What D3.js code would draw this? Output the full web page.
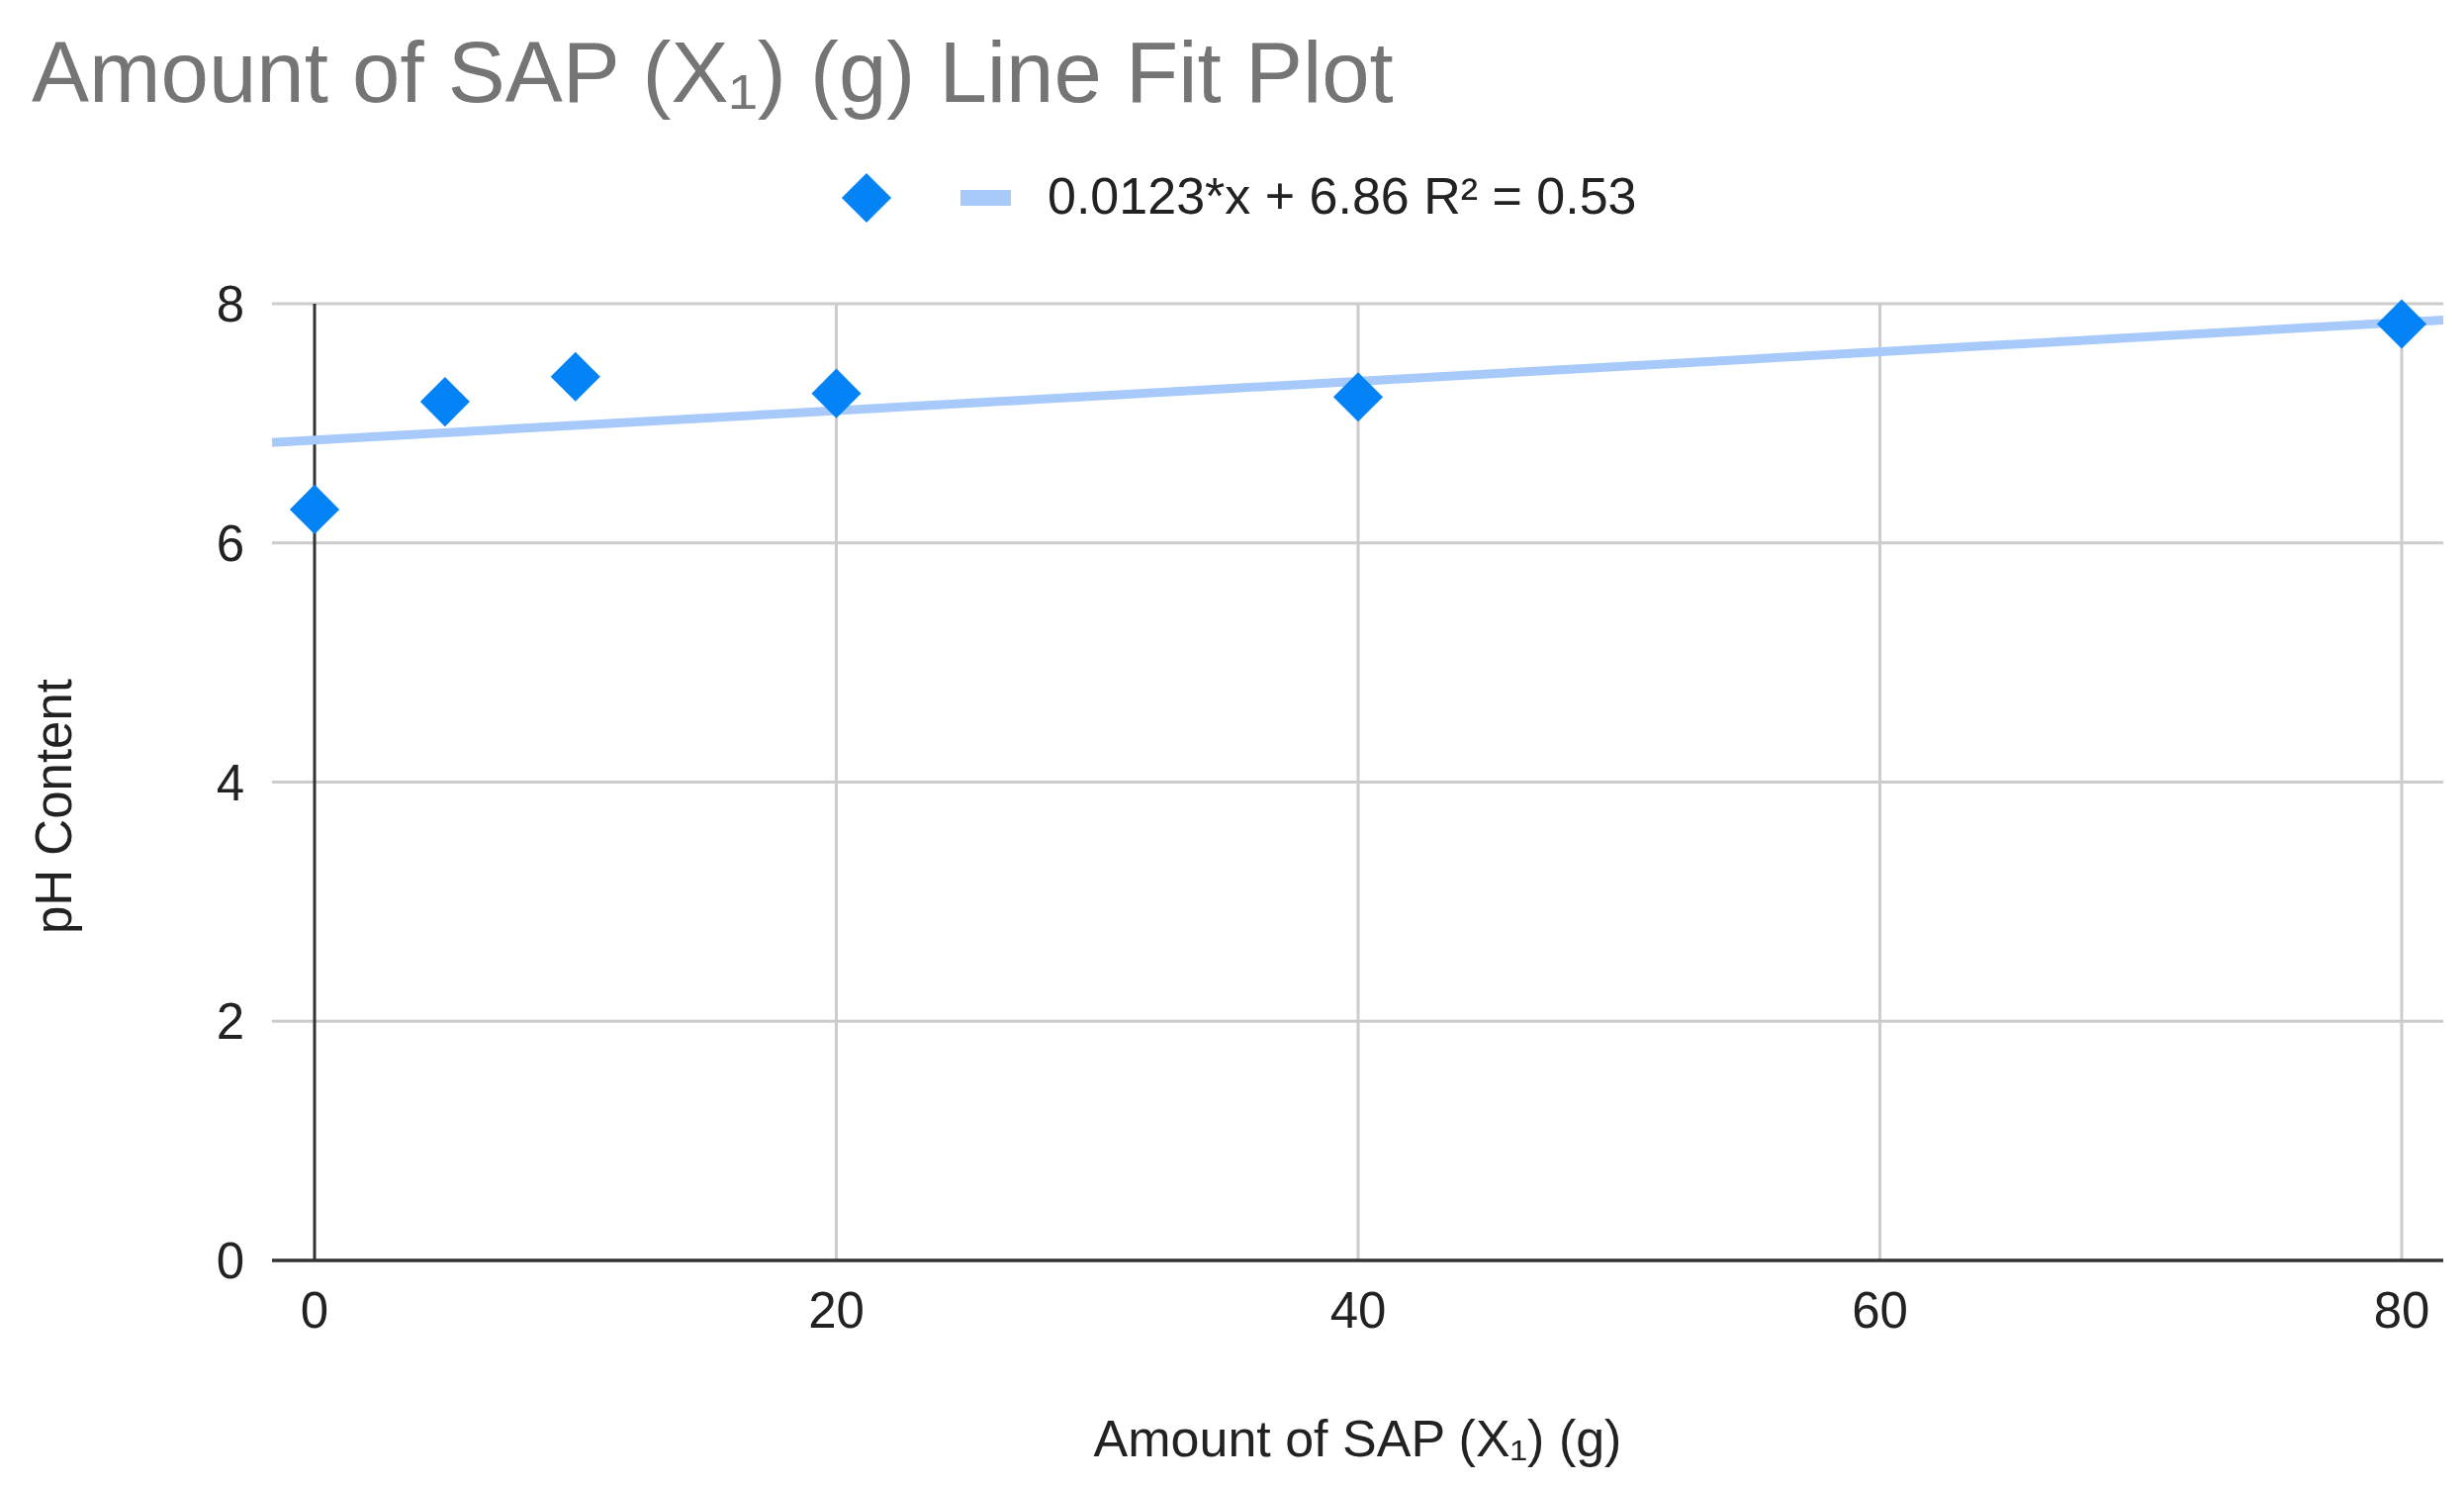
<!DOCTYPE html>
<html>
<head>
<meta charset="utf-8">
<script src="https://cdn.jsdelivr.net/npm/d3@7"></script>
<style>
  html, body { margin: 0; padding: 0; background: white; }
  svg { display: block; font-family: 'Liberation Sans', Arial, sans-serif; }
</style>
</head>
<body>
<svg width="2491" height="1502"></svg>
<script>
const sapAmount = [0, 5, 10, 20, 40, 80]
const phContent = [6.28, 7.18, 7.39, 7.25, 7.22, 7.83]
const xTicks = [0, 20, 40, 60, 80]
const yTicks = [0, 2, 4, 6, 8]
const fitSlope = 0.0123
const fitIntercept = 6.86
const fitLabel = '0.0123*x + 6.86 R² = 0.53'

const blue = '#0483f6'
const fitBlue = '#a7cafa'

const svg = d3.select('svg')

const x = d3.scaleLinear().domain([0, 80]).range([318, 2428])
const y = d3.scaleLinear().domain([0, 8]).range([1274, 307])
const left = 275, right = 2470
const xLo = x.invert(left), xHi = x.invert(right)

// title
svg.append('text')
  .attr('x', 32).attr('y', 103)
  .attr('font-size', 87).attr('fill', '#757575')
  .text('Amount of SAP (X₁) (g) Line Fit Plot')

// legend
const diamond = d3.symbol().type(d3.symbolDiamond2).size(1600)
svg.append('path')
  .attr('d', diamond())
  .attr('transform', 'translate(876 200)')
  .attr('fill', blue)
svg.append('rect')
  .attr('x', 971).attr('y', 192).attr('width', 51).attr('height', 16)
  .attr('fill', fitBlue)
svg.append('text')
  .attr('x', 1059).attr('y', 216)
  .attr('font-size', 52).attr('fill', '#222')
  .text(fitLabel)

// grid
const grid = svg.append('g')
grid.selectAll('line.h').data(yTicks.filter(d => d !== 0)).join('line')
  .attr('x1', left).attr('x2', right)
  .attr('y1', d => y(d)).attr('y2', d => y(d))
  .attr('stroke', '#cccccc').attr('stroke-width', 3)
grid.selectAll('line.v').data(xTicks.filter(d => d !== 0)).join('line')
  .attr('x1', d => x(d)).attr('x2', d => x(d))
  .attr('y1', y(8)).attr('y2', y(0))
  .attr('stroke', '#cccccc').attr('stroke-width', 3)

// zero lines
svg.append('line')
  .attr('x1', x(0)).attr('x2', x(0))
  .attr('y1', y(8)).attr('y2', y(0))
  .attr('stroke', '#333').attr('stroke-width', 3)
svg.append('line')
  .attr('x1', left).attr('x2', right)
  .attr('y1', y(0)).attr('y2', y(0))
  .attr('stroke', '#333').attr('stroke-width', 3.5)

// tick labels
svg.append('g').selectAll('text').data(yTicks).join('text')
  .attr('x', 247).attr('y', d => y(d) + 18)
  .attr('text-anchor', 'end')
  .attr('font-size', 51).attr('fill', '#222')
  .text(d => d)
svg.append('g').selectAll('text').data(xTicks).join('text')
  .attr('x', d => x(d)).attr('y', 1342)
  .attr('text-anchor', 'middle')
  .attr('font-size', 51).attr('fill', '#222')
  .text(d => d)

// axis titles
svg.append('text')
  .attr('x', (left + right) / 2).attr('y', 1472)
  .attr('text-anchor', 'middle')
  .attr('font-size', 52).attr('fill', '#222')
  .text('Amount of SAP (X₁) (g)')
svg.append('text')
  .attr('transform', 'translate(72 815) rotate(-90)')
  .attr('text-anchor', 'middle')
  .attr('font-size', 51).attr('fill', '#222')
  .text('pH Content')

// fit line
const fitLine = d3.line().x(d => x(d)).y(d => y(fitSlope * d + fitIntercept))
svg.append('path')
  .attr('d', fitLine([xLo, xHi]))
  .attr('stroke', fitBlue).attr('stroke-width', 9).attr('fill', 'none')

// points
svg.append('g').selectAll('path').data(sapAmount).join('path')
  .attr('d', diamond())
  .attr('transform', (d, i) => `translate(${x(d)} ${y(phContent[i])})`)
  .attr('fill', blue)
</script>
</body>
</html>
